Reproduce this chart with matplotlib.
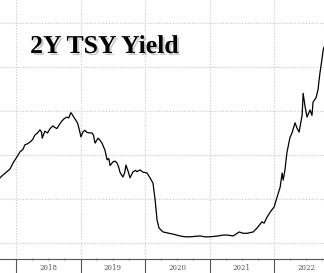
import numpy as np
import pandas as pd
import matplotlib
matplotlib.use("Agg")
import matplotlib.pyplot as plt
import matplotlib.dates as mdates
import matplotlib.patheffects as pe

# 2Y Treasury yield (%)
DATES = [
    "2017-10-02", "2017-10-20", "2017-11-10", "2017-11-28", "2017-12-15",
    "2018-01-05", "2018-01-23", "2018-02-08", "2018-02-20", "2018-03-05",
    "2018-03-20", "2018-04-05", "2018-04-17", "2018-05-02", "2018-05-16",
    "2018-05-25", "2018-05-29", "2018-06-13", "2018-06-28", "2018-07-11",
    "2018-07-28", "2018-08-10", "2018-08-20", "2018-09-05", "2018-09-17",
    "2018-10-02", "2018-10-16", "2018-10-26", "2018-11-07", "2018-11-13",
    "2018-11-30", "2018-12-10", "2018-12-17", "2018-12-28", "2019-01-03",
    "2019-01-14", "2019-01-25", "2019-02-07", "2019-02-22", "2019-03-07",
    "2019-03-15", "2019-03-24", "2019-04-10", "2019-04-20", "2019-05-02",
    "2019-05-19", "2019-05-31", "2019-06-10", "2019-06-17", "2019-07-03",
    "2019-07-15", "2019-07-26", "2019-08-05", "2019-08-12", "2019-08-20",
    "2019-08-29", "2019-09-08", "2019-09-15", "2019-09-28", "2019-10-08",
    "2019-10-24", "2019-11-08", "2019-11-16", "2019-12-03", "2019-12-20",
    "2020-01-12", "2020-01-29", "2020-02-15", "2020-02-27", "2020-03-09",
    "2020-03-20", "2020-04-12", "2020-05-05", "2020-06-08", "2020-07-17",
    "2020-08-15", "2020-09-12", "2020-10-10", "2020-11-07", "2020-12-05",
    "2021-01-03", "2021-02-18", "2021-03-18", "2021-04-10", "2021-05-14",
    "2021-06-17", "2021-07-09", "2021-08-01", "2021-09-04", "2021-09-26",
    "2021-10-24", "2021-11-05", "2021-11-22", "2021-12-09", "2022-01-01",
    "2022-01-18", "2022-02-04", "2022-02-15", "2022-02-21", "2022-03-03",
    "2022-03-14", "2022-03-31", "2022-04-12", "2022-04-29", "2022-05-10",
    "2022-05-22", "2022-06-08", "2022-06-14", "2022-06-25", "2022-07-06",
    "2022-07-23", "2022-08-03", "2022-08-09", "2022-08-26", "2022-09-06",
    "2022-09-17", "2022-09-28", "2022-10-05", "2022-10-10",
]
YIELDS = [
    1.48, 1.55, 1.62, 1.68, 1.82,
    1.95, 2.07, 2.12, 2.23, 2.25,
    2.29, 2.35, 2.45, 2.50, 2.57,
    2.52, 2.38, 2.54, 2.50, 2.59,
    2.66, 2.62, 2.60, 2.70, 2.77,
    2.83, 2.86, 2.84, 2.96, 2.93,
    2.82, 2.76, 2.70, 2.52, 2.41,
    2.52, 2.56, 2.51, 2.50, 2.50,
    2.45, 2.27, 2.38, 2.34, 2.27,
    2.11, 1.89, 1.92, 1.76, 1.84,
    1.86, 1.82, 1.72, 1.61, 1.55,
    1.50, 1.60, 1.77, 1.62, 1.48,
    1.61, 1.65, 1.62, 1.66, 1.61,
    1.59, 1.48, 1.36, 0.98, 0.52,
    0.34, 0.25, 0.23, 0.20, 0.16,
    0.14, 0.14, 0.15, 0.16, 0.14,
    0.14, 0.16, 0.18, 0.18, 0.16,
    0.25, 0.22, 0.22, 0.25, 0.34,
    0.48, 0.45, 0.59, 0.70, 0.82,
    1.05, 1.27, 1.59, 1.43, 1.66,
    2.05, 2.39, 2.50, 2.73, 2.61,
    2.52, 2.90, 3.40, 3.09, 2.86,
    3.02, 2.90, 3.20, 3.30, 3.48,
    3.86, 4.16, 4.38, 4.45,
]
YEARS = [2018, 2019, 2020, 2021, 2022]

dates = pd.to_datetime(DATES)

fig = plt.figure(figsize=(3.24, 2.73), dpi=100)
ax = fig.add_axes([0, 0.0513, 1, 0.9487])

ax.plot(dates, YIELDS, color="black", linewidth=0.9)

ax.set_xlim(pd.Timestamp("2017-10-02"), pd.Timestamp("2022-10-10"))
ax.set_ylim(-0.364, 5.52)

# grid: dotted light gray at whole percents and year boundaries
ax.set_yticks(range(0, 6))
ax.xaxis.set_major_locator(mdates.YearLocator())
ax.xaxis.set_minor_locator(mdates.MonthLocator(bymonth=[4, 7, 10]))
ax.grid(True, which="major", color="#c8c8c8", linestyle=(0, (1, 1.5)), linewidth=0.8)

for s in ["left", "right", "top"]:
    ax.spines[s].set_visible(False)
ax.spines["bottom"].set_color("#555555")
ax.spines["bottom"].set_linewidth(0.8)

ax.tick_params(axis="y", left=False, labelleft=False)
ax.tick_params(axis="x", which="major", length=10, width=0.8, color="#555555",
               labelbottom=False)
ax.tick_params(axis="x", which="minor", length=2, width=0.6, color="#777777",
               direction="inout")

# year labels centred between the boundaries
for yr in YEARS:
    ax.text(pd.Timestamp(f"{yr}-07-01"), -0.575, str(yr), ha="center", va="center",
            fontsize=5, color="#555555", family="DejaVu Serif", clip_on=False)

fig.text(0.093, 0.806, "2Y TSY Yield", fontsize=18.5, fontweight="bold",
         family="Liberation Serif", color="black", ha="left", va="baseline",
         path_effects=[pe.withSimplePatchShadow(offset=(1.5, -1.5),
                                                shadow_rgbFace="gray", alpha=0.4)])

fig.savefig("out.png", dpi=100)
